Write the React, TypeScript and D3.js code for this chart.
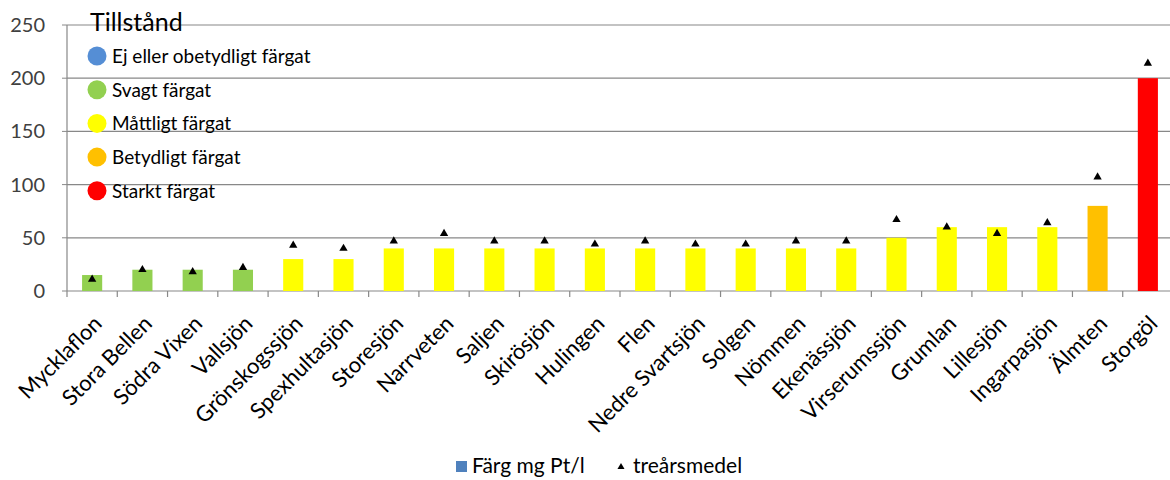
import React from "react";
import * as d3 from "d3";

// Lakes, measured colour (mg Pt/l) and three-year mean
const lakes = [
  "Mycklaflon", "Stora Bellen", "Södra Vixen", "Vallsjön", "Grönskogssjön",
  "Spexhultasjön", "Storesjön", "Narrveten", "Saljen", "Skirösjön", "Hulingen",
  "Flen", "Nedre Svartsjön", "Solgen", "Nömmen", "Ekenässjön", "Virserumssjön",
  "Grumlan", "Lillesjön", "Ingarpasjön", "Älmten", "Storgöl",
];
const colourValues = [15, 20, 20, 20, 30, 30, 40, 40, 40, 40, 40, 40, 40, 40, 40, 40, 50, 60, 60, 60, 80, 200];
const threeYearMean = [11, 20, 18, 22, 43, 40, 47, 54, 47, 47, 44, 47, 44, 44, 47, 47, 67, 60, 54, 64, 107, 214];
const yTicks = [0, 50, 100, 150, 200, 250];

// Condition classes (Tillstånd)
const classNames = ["Ej eller obetydligt färgat", "Svagt färgat", "Måttligt färgat", "Betydligt färgat", "Starkt färgat"];
const classColors = ["#558ED5", "#92D050", "#FFFF00", "#FFC000", "#FF0000"];
const classOf = (v: number) => (v <= 10 ? 0 : v <= 25 ? 1 : v <= 60 ? 2 : v <= 100 ? 3 : 4);

const W = 1170;
const H = 480;
const left = 67;
const right = 1173;
const top = 25;
const bottom = 291;
const font = "Lato, 'Open Sans', sans-serif";

export default function App() {
  const x = d3.scaleBand<string>().domain(lakes).range([left, right]).paddingInner(0.6).paddingOuter(0.3);
  const step = x.step();
  const y = d3.scaleLinear().domain([0, 250]).range([bottom, top]);
  const tri = d3.symbol().type(d3.symbolTriangle).size(30)();
  const cx = (l: string) => x(l)! + x.bandwidth() / 2;

  return (
    <svg width={W} height={H} style={{ position: "absolute", left: 0, top: 0 }} fontFamily={font}>
      <rect width={W} height={H} fill="#fff" />
      {/* gridlines */}
      {yTicks.map((t) => (
        <line key={t} x1={left} x2={W} y1={y(t)} y2={y(t)} stroke="#888" strokeWidth={1.2} />
      ))}
      {/* y axis */}
      <line x1={left} x2={left} y1={top} y2={bottom} stroke="#888" strokeWidth={1.2} />
      {yTicks.map((t) => (
        <g key={"yt" + t}>
          <line x1={left - 5} x2={left} y1={y(t)} y2={y(t)} stroke="#888" />
          <text x={45} y={y(t)} dy="0.35em" textAnchor="end" fontSize={20} fill="#404040">{t}</text>
        </g>
      ))}
      {/* category ticks */}
      {lakes.map((l, i) => (
        <line key={"xt" + l} x1={left + i * step} x2={left + i * step} y1={bottom} y2={bottom + 6} stroke="#888" strokeWidth={1.2} />
      ))}
      {/* bars */}
      {lakes.map((l, i) => (
        <rect key={"b" + l} x={x(l)} y={y(colourValues[i])} width={x.bandwidth()} height={bottom - y(colourValues[i])} fill={classColors[classOf(colourValues[i])]} />
      ))}
      {/* three-year mean markers */}
      {lakes.map((l, i) => (
        <path key={"m" + l} d={tri!} transform={`translate(${cx(l)},${y(threeYearMean[i])})`} fill="#000" />
      ))}
      {/* category labels */}
      {lakes.map((l) => (
        <text key={"xl" + l} transform={`translate(${cx(l) + 11},${bottom + 34}) rotate(-45)`} textAnchor="end" fontSize={22} fill="#000">{l}</text>
      ))}
      {/* condition legend */}
      <text x={90} y={31} fontSize={25} fill="#000">Tillstånd</text>
      {classNames.map((n, i) => (
        <g key={n} transform={`translate(97,${56 + i * 33.7})`}>
          <circle r={9.5} fill={classColors[i]} />
          <text x={15} y={7} fontSize={19} fill="#000">{n}</text>
        </g>
      ))}
      {/* series legend */}
      <rect x={456} y={461} width={11} height={11} fill="#4F81BD" />
      <text x={472} y={473} fontSize={21} fill="#000">Färg mg Pt/l</text>
      <path d={tri!} transform="translate(621,467) scale(0.85)" fill="#000" />
      <text x={633} y={473} fontSize={21} fill="#000">treårsmedel</text>
    </svg>
  );
}
